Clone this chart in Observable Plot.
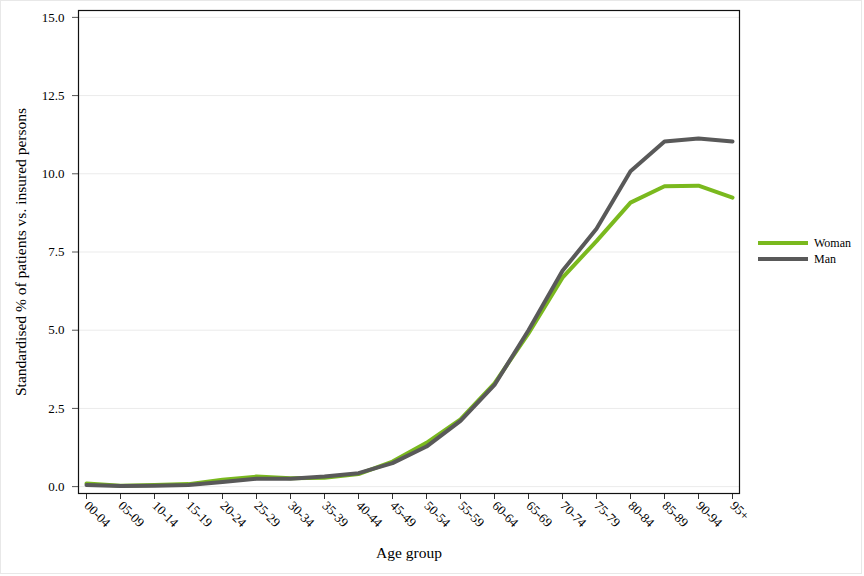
<!DOCTYPE html>
<html><head><meta charset="utf-8">
<script src="https://cdn.jsdelivr.net/npm/d3@7"></script>
<script src="https://cdn.jsdelivr.net/npm/@observablehq/plot@0.6"></script>
<style>
body{margin:0;background:#fff;}
#wrap{position:relative;width:864px;height:576px;overflow:hidden;}
#border{position:absolute;left:0;top:0;width:860px;height:572px;border:1px solid #e8e8e8;pointer-events:none;}
#legend{position:absolute;left:757px;top:235px;font-family:"Liberation Serif",serif;font-size:12px;line-height:16px;}
#legend div{display:flex;align-items:center;}
#legend svg{margin-right:5px;}
#chart g[aria-label="y-axis label"] text, #chart g[aria-label="x-axis label"] text{font-size:15.5px;}
</style></head>
<body><div id="wrap"><div id="chart"></div><div id="border"></div><div id="legend"></div></div>
<script>
const ageGroups = ["00-04","05-09","10-14","15-19","20-24","25-29","30-34","35-39","40-44","45-49","50-54","55-59","60-64","65-69","70-74","75-79","80-84","85-89","90-94","95+"];
const woman = [0.10,0.03,0.05,0.08,0.22,0.32,0.27,0.28,0.40,0.80,1.40,2.15,3.30,4.90,6.68,7.85,9.08,9.60,9.62,9.24];
const man   = [0.05,0.02,0.03,0.05,0.15,0.25,0.25,0.32,0.43,0.75,1.28,2.10,3.25,5.00,6.90,8.24,10.08,11.03,11.13,11.03];
const seriesNames = ["Woman","Man"];
const seriesColors = ["#7ab91e","#595959"];
const yTicks = [0,2.5,5,7.5,10,12.5,15];

const rows = [];
ageGroups.forEach((a,i)=>rows.push({age:a, value:woman[i], series:"Woman"}));
ageGroups.forEach((a,i)=>rows.push({age:a, value:man[i], series:"Man"}));

const chart = Plot.plot({
  width:864, height:576,
  marginLeft:78, marginRight:125, marginTop:10, marginBottom:83,
  style:{fontFamily:"'Liberation Serif', serif", fontSize:"13px", color:"#000", background:"#fff"},
  x:{type:"point", domain:ageGroups, padding:0.2},
  y:{domain:[-0.22,15.22]},
  color:{domain:seriesNames, range:seriesColors},
  marks:[
    Plot.gridY(yTicks,{stroke:"#ebebeb", strokeOpacity:1}),
    Plot.axisY(yTicks,{tickFormat:d3.format(".1f"), tickSize:6, tickPadding:8, stroke:"#555",
      label:"Standardised % of patients vs. insured persons", labelAnchor:"center", labelArrow:"none", labelOffset:64}),
    Plot.axisX({tickRotate:45, tickSize:6, tickPadding:4, stroke:"#333",
      label:"Age group", labelAnchor:"center", labelArrow:"none", labelOffset:64}),
    Plot.line(rows,{x:"age", y:"value", stroke:"series", z:"series", strokeWidth:4, strokeLinejoin:"round"}),
    Plot.frame({stroke:"#111", strokeWidth:1.2})
  ]
});
document.getElementById("chart").appendChild(chart);

const leg = d3.select("#legend");
seriesNames.forEach((n,i)=>{
  const row = leg.append("div");
  const s = row.append("svg").attr("width",52).attr("height",16);
  s.append("line").attr("x1",1).attr("x2",51).attr("y1",8).attr("y2",8)
    .attr("stroke",seriesColors[i]).attr("stroke-width",4);
  row.append("span").text(n);
});
</script>
</body></html>
